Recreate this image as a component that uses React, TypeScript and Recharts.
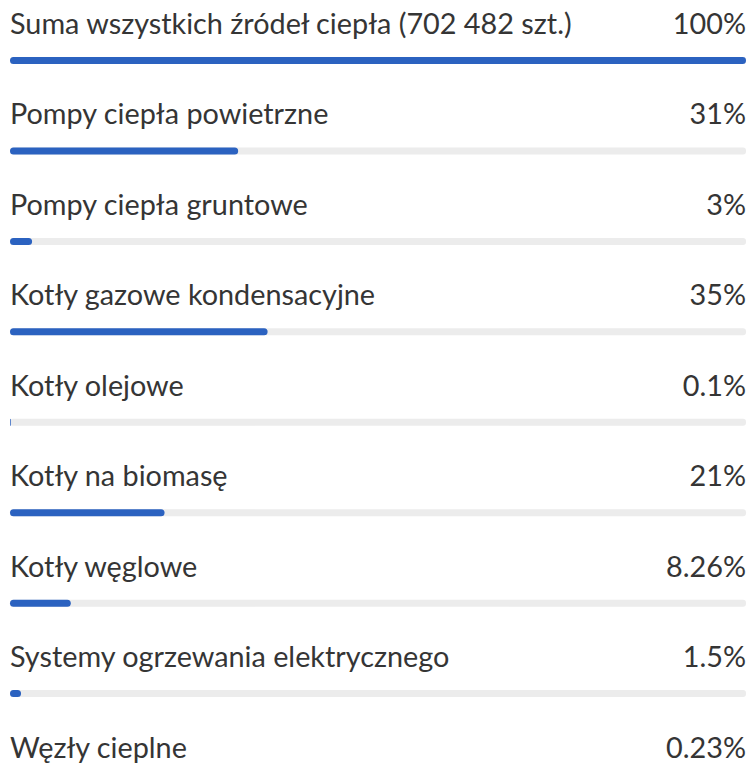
import React from 'react';
import { BarChart, Bar, XAxis, YAxis, LabelList } from 'recharts';

const categories = [
  'Suma wszystkich źródeł ciepła (702 482 szt.)',
  'Pompy ciepła powietrzne',
  'Pompy ciepła gruntowe',
  'Kotły gazowe kondensacyjne',
  'Kotły olejowe',
  'Kotły na biomasę',
  'Kotły węglowe',
  'Systemy ogrzewania elektrycznego',
  'Węzły cieplne',
];

const shares = [100, 31, 3, 35, 0.1, 21, 8.26, 1.5, 0.23];

const shareLabels = ['100%', '31%', '3%', '35%', '0.1%', '21%', '8.26%', '1.5%', '0.23%'];

const data = categories.map((name, i) => ({ name, share: shares[i] }));

const WIDTH = 752;
const HEIGHT = 763;
const LEFT = 10;
const RIGHT = 6;
const TEXT = '#353535';
const FONT = 'Lato, "Noto Sans", sans-serif';
const FONT_SIZE = 28.8;

// name on the left, percentage on the right, both above the track
const RowLabel = (props: any) => {
  const { x, y, height, index } = props;
  const baseline = y + height / 2 - 26.5;
  return (
    <g>
      <text x={x} y={baseline} fill={TEXT} fontSize={FONT_SIZE} fontFamily={FONT}>
        {categories[index]}
      </text>
      <text x={WIDTH - RIGHT} y={baseline} fill={TEXT} fontSize={FONT_SIZE} fontFamily={FONT} textAnchor="end">
        {shareLabels[index]}
      </text>
    </g>
  );
};

export default function App() {
  return (
    <div style={{ position: 'fixed', top: 0, left: 0, width: WIDTH, height: HEIGHT, overflow: 'hidden', background: '#fff' }}>
      {/* last row runs past the bottom edge, like in the cropped original */}
      <BarChart
        width={WIDTH}
        height={HEIGHT}
        data={data}
        layout="vertical"
        margin={{ top: 15, right: RIGHT, bottom: -66, left: LEFT }}
        barCategoryGap={0}
      >
        <XAxis type="number" domain={[0, 100]} hide />
        <YAxis type="category" dataKey="name" hide />
        <Bar
          dataKey="share"
          fill="#2b62c0"
          barSize={7}
          radius={3.5}
          background={{ fill: '#ececec', radius: 3 } as any}
          isAnimationActive={false}
        >
          <LabelList dataKey="share" content={RowLabel} />
        </Bar>
      </BarChart>
    </div>
  );
}
